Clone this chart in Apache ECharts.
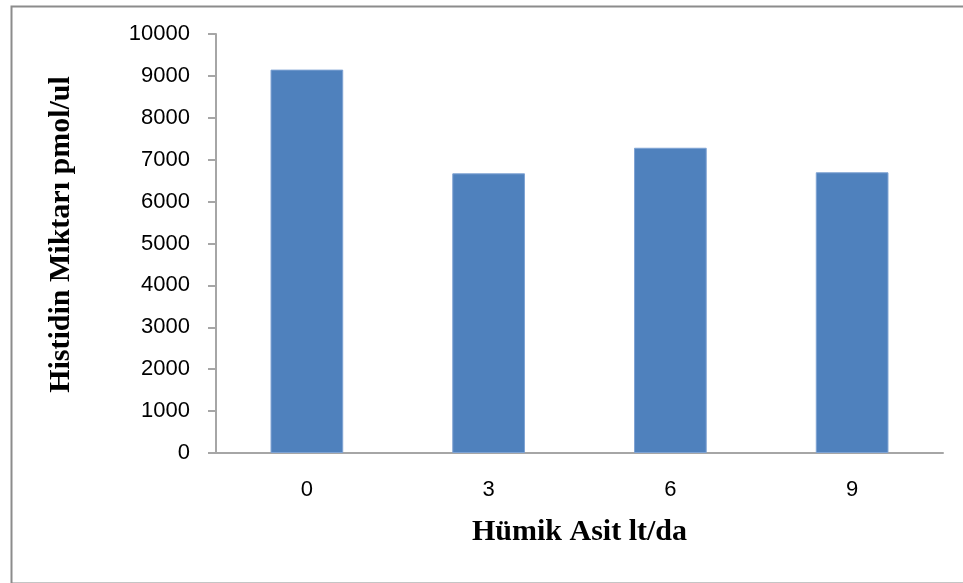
<!DOCTYPE html>
<html>
<head>
<meta charset="utf-8">
<script src="https://cdn.jsdelivr.net/npm/echarts@6/dist/echarts.min.js"></script>
<style>
  html, body { margin: 0; padding: 0; background: #fff; }
  #container { width: 963px; height: 583px; }
</style>
</head>
<body>
<div id="container"></div>
<script>
var categories = ['0', '3', '6', '9'];
var histidin = [9150, 6675, 7285, 6700];
var yTicks = [0, 10000, 1000];

var dom = document.getElementById("container");
var myChart = echarts.init(dom);

var option = {
    animation: false,
    backgroundColor: '#fff',
    grid: {
        left: 216,
        right: 20,
        top: 34,
        bottom: 130
    },
    graphic: [{
        type: 'rect',
        left: 9,
        top: 4,
        shape: { width: 970, height: 577 },
        style: { fill: 'none', stroke: '#8c8c8c', lineWidth: 2 },
        silent: true
    }],
    xAxis: {
        type: 'category',
        data: categories,
        name: 'Hümik Asit lt/da',
        nameLocation: 'middle',
        nameGap: 64,
        nameTextStyle: {
            fontFamily: 'Liberation Serif',
            fontWeight: 'bold',
            fontSize: 30,
            color: '#000'
        },
        axisLine: { lineStyle: { color: '#a6a6a6', width: 2 } },
        axisTick: { show: false },
        axisLabel: {
            margin: 26,
            fontFamily: 'Liberation Sans',
            fontSize: 22,
            color: '#000'
        }
    },
    yAxis: {
        type: 'value',
        min: yTicks[0],
        max: yTicks[1],
        interval: yTicks[2],
        name: 'Histidin Miktarı pmol/ul',
        nameLocation: 'middle',
        nameGap: 140,
        nameTextStyle: {
            fontFamily: 'Liberation Serif',
            fontWeight: 'bold',
            fontSize: 30,
            color: '#000',
            padding: [0, 0, 0, 18]
        },
        splitLine: { show: false },
        axisLine: { show: true, lineStyle: { color: '#a6a6a6', width: 2 } },
        axisTick: { show: true, length: 8, lineStyle: { color: '#a6a6a6', width: 2 } },
        axisLabel: {
            margin: 26,
            fontFamily: 'Liberation Sans',
            fontSize: 22,
            color: '#000',
            formatter: function (v) { return String(v); }
        }
    },
    series: [{
        type: 'bar',
        data: histidin,
        barWidth: '40%',
        itemStyle: {
            color: '#4f81bd',
            borderColor: '#7fa3d3',
            borderWidth: 1
        }
    }]
};
myChart.setOption(option);
</script>
</body>
</html>
